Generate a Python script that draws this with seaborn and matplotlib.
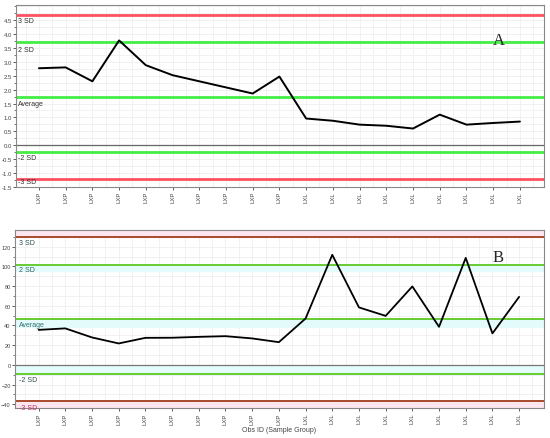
import numpy as np
import pandas as pd
import matplotlib
matplotlib.use('Agg')
import matplotlib.pyplot as plt
import seaborn as sns
from matplotlib.ticker import MultipleLocator

# sample groups along the x axis
groups = ['LXP'] * 10 + ['LXL'] * 9

# panel A values
vals_a = [2.77, 2.80, 2.30, 3.77, 2.88, 2.52, 2.30, 2.08, 1.86, 2.47,
          0.96, 0.88, 0.74, 0.70, 0.60, 1.10, 0.74, 0.80, 0.85]
# panel B values
vals_b = [35.5, 37.0, 27.8, 21.7, 27.4, 27.5, 28.4, 29.1, 26.8, 23.0,
          47.0, 111.7, 58.3, 49.7, 79.6, 38.6, 108.6, 31.9, 69.0]

# control limits: 3 SD, 2 SD, Average, -2 SD, -3 SD
limit_names = ['3 SD', '2 SD', 'Average', '-2 SD', '-3 SD']
limits_a = [4.70, 3.73, 1.75, -0.23, -1.20]
limits_b = [129.3, 101.5, 46.1, -9.1, -36.9]

# y tick values shown
yticks_a = [-1.5, -1.0, -0.5, 0.0, 0.5, 1.0, 1.5, 2.0, 2.5, 3.0, 3.5, 4.0, 4.5]
yticks_b = [-40, -20, 0, 20, 40, 60, 80, 100, 120]

sns.set_style('white')
plt.rcParams['font.family'] = ['Liberation Sans', 'DejaVu Sans']

fig = plt.figure(figsize=(5.5, 4.39), dpi=100)
ax_a = fig.add_axes([0.029, 0.572, 0.960, 0.414])
ax_b = fig.add_axes([0.027, 0.068, 0.962, 0.406])

df_a = pd.DataFrame({'idx': range(len(groups)), 'value': vals_a})
df_b = pd.DataFrame({'idx': range(len(groups)), 'value': vals_b})


def style_axes(ax, xlim, ylim, yticks, minor, ysize):
    ax.set_xlim(*xlim)
    ax.set_ylim(*ylim)
    ax.set_xticks(range(len(groups)))
    ax.set_xticklabels(groups, rotation=90, fontsize=4.3, color='#555555')
    ax.xaxis.set_minor_locator(MultipleLocator(0.5))
    ax.set_yticks(yticks)
    ax.yaxis.set_minor_locator(MultipleLocator(minor))
    ax.grid(True, which='both', color='#efefef', linewidth=0.6)
    ax.set_axisbelow(True)
    ax.tick_params(axis='both', which='major', direction='out', length=2.2,
                   width=0.6, colors='#444444', pad=0.8,
                   bottom=True, left=True)
    ax.tick_params(axis='y', which='major', labelsize=ysize)
    ax.tick_params(axis='y', which='minor', direction='out', length=1.3,
                   width=0.5, left=True, colors='#444444')
    for s in ax.spines.values():
        s.set_color('#888888')
        s.set_linewidth(0.8)
    ax.set_ylabel('')


# ---- panel A ----
ax = ax_a
for name, y in zip(limit_names, limits_a):
    col = '#ff5060' if abs(y - limits_a[2]) > 2.5 else '#44ee44'
    ax.axhline(y, color=col, linewidth=2.0, zorder=2)
ax.axhline(0, color='#666666', linewidth=0.9, zorder=2)
sns.lineplot(data=df_a, x='idx', y='value', color='black', linewidth=1.4,
             ax=ax, zorder=3)
style_axes(ax, (-0.86, 18.9), (-1.5, 5.04), yticks_a, 0.25, 4.3)
ax.set_xlabel('')
ax.set_yticklabels([f'{v:.1f}' for v in yticks_a])
label_off_a = [-0.22, -0.3, -0.25, -0.2, -0.1]
for name, y, off in zip(limit_names, limits_a, label_off_a):
    ax.text(-0.8, y + off, name, fontsize=5, color='#333333', va='center',
            ha='left', zorder=4)
ax.text(17.2, 3.78, 'A', fontsize=12, family='Liberation Serif',
        ha='center', va='center', zorder=4)

# ---- panel B ----
ax = ax_b
ax.axhspan(limits_b[0], 140, color='#fde6f0', zorder=1)
ax.axhspan(-50, limits_b[4], color='#fde6f0', zorder=1)
ax.axhspan(limits_b[1] - 6, limits_b[1], color='#e4fbfb', zorder=1)
ax.axhspan(limits_b[2] - 8, limits_b[2], color='#e4fbfb', zorder=1)
ax.axhspan(limits_b[3], limits_b[3] + 8, color='#e4fbfb', zorder=1)
for name, y in zip(limit_names, limits_b):
    col = '#a84a2a' if abs(y - limits_b[2]) > 60 else '#66cc33'
    ax.axhline(y, color=col, linewidth=1.4, zorder=2)
ax.axhline(0, color='#777777', linewidth=0.9, zorder=2)
sns.lineplot(data=df_b, x='idx', y='value', color='black', linewidth=1.3,
             ax=ax, zorder=3)
style_axes(ax, (-0.89, 18.93), (-44, 137), yticks_b, 10, 4.0)
ax.set_xlabel('Obs ID (Sample Group)', fontsize=5, color='#444444',
              labelpad=2)
label_off_b = [-5, -5, -5, -6, -6]
label_col_b = ['#2f4f4f', '#2f5f5f', '#2f6f6f', '#2f4f4f', '#c03060']
for name, y, off, c in zip(limit_names, limits_b, label_off_b, label_col_b):
    ax.text(-0.75, y + off, name, fontsize=5, color=c, va='center',
            ha='left', zorder=4)
ax.text(17.2, 109, 'B', fontsize=12, family='Liberation Serif',
        ha='center', va='center', zorder=4)

fig.savefig('out.png', dpi=100)
